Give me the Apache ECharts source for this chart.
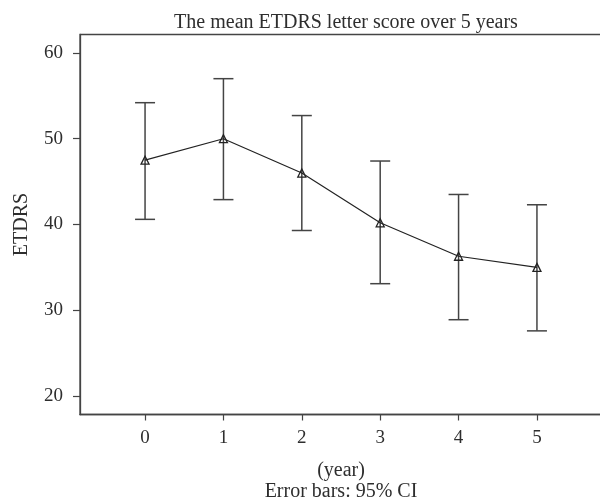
<!DOCTYPE html>
<html>
<head>
<meta charset="utf-8">
<script src="https://cdn.jsdelivr.net/npm/echarts@6/dist/echarts.min.js"></script>
<style>html,body{margin:0;padding:0;background:#fff;}#c{width:600px;height:504px;}</style>
</head>
<body>
<div id="c"></div>
<script>
var years = [0, 1, 2, 3, 4, 5];
var means = [47.5, 50.0, 46.0, 40.2, 36.3, 35.0];
var lower = [40.6, 42.9, 39.3, 33.1, 28.9, 27.6];
var upper = [54.2, 57.0, 52.7, 47.4, 43.5, 42.3];
var yTicks = [20, 30, 40, 50, 60];
var xTicks = [0, 1, 2, 3, 4, 5];

var FONT = '"Liberation Serif", "DejaVu Serif", serif';
var INK = '#2e2e2e';

var chart = echarts.init(document.getElementById('c'), null, {renderer: 'canvas'});
chart.setOption({
  backgroundColor: '#ffffff',
  animation: false,
  title: {
    text: 'The mean ETDRS letter score over 5 years',
    left: 341, top: 8, textAlign: 'center',
    textStyle: {fontFamily: FONT, fontSize: 20, fontWeight: 'normal', color: INK}
  },
  grid: {
    left: 80, right: -2, top: 34.5, bottom: 89.5,
    containLabel: false, outerBoundsMode: 'none',
    show: true, borderColor: '#444', borderWidth: 1.3, backgroundColor: 'transparent'
  },
  xAxis: {
    type: 'value', min: -0.83, max: 5.83,
    name: '(year)\nError bars: 95% CI',
    nameLocation: 'middle', nameGap: 45,
    nameTextStyle: {fontFamily: FONT, fontSize: 20, color: INK, lineHeight: 21.5},
    axisLine: {show: true, onZero: false, lineStyle: {color: '#444', width: 1.3}},
    axisTick: {show: true, length: 6, customValues: xTicks, lineStyle: {color: '#444', width: 1.2}},
    axisLabel: {customValues: xTicks, fontFamily: FONT, fontSize: 19, color: INK, margin: 14},
    splitLine: {show: false}
  },
  yAxis: {
    type: 'value', min: 17.85, max: 62.15,
    name: 'ETDRS', nameLocation: 'middle', nameGap: 48, nameRotate: 90,
    nameTextStyle: {fontFamily: FONT, fontSize: 20, color: INK},
    axisLine: {show: true, onZero: false, lineStyle: {color: '#444', width: 1.3}},
    axisTick: {show: true, length: 7, customValues: yTicks, lineStyle: {color: '#444', width: 1.2}},
    axisLabel: {customValues: yTicks, fontFamily: FONT, fontSize: 19, color: INK, margin: 17},
    splitLine: {show: false}
  },
  series: [
    {
      type: 'custom',
      name: 'ci',
      data: years.map(function (x, i) { return [x, lower[i], upper[i]]; }),
      renderItem: function (params, api) {
        var x = api.value(0);
        var lo = api.coord([x, api.value(1)]);
        var hi = api.coord([x, api.value(2)]);
        var hw = 10;
        var style = {stroke: '#444', lineWidth: 1.5, fill: null};
        return {
          type: 'group',
          children: [
            {type: 'line', shape: {x1: lo[0], y1: lo[1], x2: hi[0], y2: hi[1]}, style: style},
            {type: 'line', shape: {x1: lo[0] - hw, y1: lo[1], x2: lo[0] + hw, y2: lo[1]}, style: style},
            {type: 'line', shape: {x1: hi[0] - hw, y1: hi[1], x2: hi[0] + hw, y2: hi[1]}, style: style}
          ]
        };
      },
      z: 3
    },
    {
      type: 'line',
      name: 'mean',
      data: years.map(function (x, i) { return [x, means[i]]; }),
      symbol: 'triangle', symbolSize: 8,
      lineStyle: {color: '#222', width: 1.2},
      itemStyle: {color: 'rgba(255,255,255,0)', borderColor: '#222', borderWidth: 1.3},
      z: 4
    }
  ]
});
</script>
</body>
</html>
